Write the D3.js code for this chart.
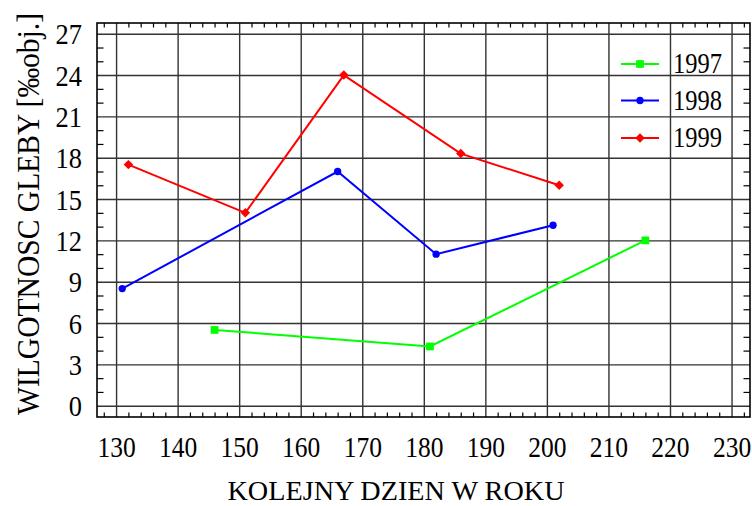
<html>

<head>
    <style>
        body { margin: 0; background: #fff; }
        text { font-family: "Liberation Serif", "Times New Roman", serif; fill: #000; }
    </style>
</head>

<body>
    <div id="my_dataviz"></div>
</body>

<script src="https://d3js.org/d3.v7.min.js"></script>
<script>
    // data
    var days1997 = [146, 181, 216];
    var vals1997 = [5.5, 4.3, 12.0];
    var days1998 = [131, 166, 182, 201];
    var vals1998 = [8.5, 17.0, 11.0, 13.1];
    var days1999 = [132, 151, 167, 186, 202];
    var vals1999 = [17.5, 14.0, 24.0, 18.3, 16.0];

    var seriesNames = ["1997", "1998", "1999"];
    var xTicks = [130, 140, 150, 160, 170, 180, 190, 200, 210, 220, 230];
    var yTicks = [0, 3, 6, 9, 12, 15, 18, 21, 24, 27];

    var W = 752, H = 506;
    var pL = 97, pR = 750, pT = 23, pB = 417;

    var svg = d3.select("#my_dataviz")
        .append("svg")
        .attr("width", W)
        .attr("height", H);

    var x = d3.scaleLinear().domain([126.9, 233]).range([pL, pR]);
    var y = d3.scaleLinear().domain([-0.82, 27.78]).range([pB, pT]);

    // squeeze text horizontally like the original condensed serif
    function condense(sel, k) {
        sel.each(function () {
            var w = this.getComputedTextLength();
            d3.select(this).attr("textLength", w * k).attr("lengthAdjust", "spacingAndGlyphs");
        });
    }

    // grid
    svg.append("g")
        .attr("transform", "translate(0," + pB + ")")
        .call(d3.axisBottom(x).tickValues(xTicks).tickSize(-(pB - pT)).tickFormat(""))
        .call(function (g) { g.select(".domain").remove(); })
        .selectAll("line").attr("stroke", "#333").attr("stroke-width", 1.4);
    svg.append("g")
        .attr("transform", "translate(" + pL + ",0)")
        .call(d3.axisLeft(y).tickValues(yTicks).tickSize(-(pR - pL)).tickFormat(""))
        .call(function (g) { g.select(".domain").remove(); })
        .selectAll("line").attr("stroke", "#333").attr("stroke-width", 1.4);

    // minor ticks, inward on all four sides
    var xMinor = d3.range(128, 233, 2).filter(function (d) { return d % 10 != 0; });
    var yMinor = d3.range(0, 28, 1).filter(function (d) { return d % 3 != 0; });
    function minor(g) { g.select(".domain").remove(); g.selectAll("line").attr("stroke", "#000").attr("stroke-width", 1.2); }
    svg.append("g").attr("transform", "translate(0," + pB + ")")
        .call(d3.axisBottom(x).tickValues(xMinor).tickSize(-4.5).tickFormat("")).call(minor);
    svg.append("g").attr("transform", "translate(0," + pT + ")")
        .call(d3.axisTop(x).tickValues(xMinor).tickSize(-4.5).tickFormat("")).call(minor);
    svg.append("g").attr("transform", "translate(" + pL + ",0)")
        .call(d3.axisLeft(y).tickValues(yMinor).tickSize(-6.5).tickFormat("")).call(minor);
    svg.append("g").attr("transform", "translate(" + pR + ",0)")
        .call(d3.axisRight(y).tickValues(yMinor).tickSize(-6.5).tickFormat("")).call(minor);

    // frame
    svg.append("rect")
        .attr("x", pL).attr("y", pT)
        .attr("width", pR - pL).attr("height", pB - pT)
        .attr("fill", "none").attr("stroke", "#000").attr("stroke-width", 1.6);

    // tick labels
    var xl = svg.append("g")
        .attr("transform", "translate(0," + pB + ")")
        .call(d3.axisBottom(x).tickValues(xTicks).tickSize(0))
        .call(function (g) { g.select(".domain").remove(); });
    xl.selectAll("text").attr("y", 40).attr("dy", 0)
        .attr("font-size", 30).attr("fill", "#000")
        .attr("font-family", "Liberation Serif");
    condense(xl.selectAll("text"), 0.85);

    var yl = svg.append("g")
        .attr("transform", "translate(" + pL + ",0)")
        .call(d3.axisLeft(y).tickValues(yTicks).tickSize(0))
        .call(function (g) { g.select(".domain").remove(); });
    yl.selectAll("text").attr("x", -15).attr("dy", "0.34em")
        .attr("font-size", 30).attr("fill", "#000")
        .attr("font-family", "Liberation Serif");
    condense(yl.selectAll("text"), 0.88);

    // axis titles
    var xt = svg.append("text")
        .attr("x", 396).attr("y", 500)
        .attr("text-anchor", "middle")
        .attr("font-size", 27)
        .text("KOLEJNY DZIEN W ROKU");
    xt.attr("textLength", 337).attr("lengthAdjust", "spacingAndGlyphs");

    var yt = svg.append("text")
        .attr("transform", "translate(39,214) rotate(-90)")
        .attr("text-anchor", "middle")
        .attr("font-size", 32)
        .text("WILGOTNOSC GLEBY [‰obj.]");
    yt.attr("textLength", 402).attr("lengthAdjust", "spacingAndGlyphs");

    // series (diamond = square turned 45 degrees)
    var series = [
        { name: seriesNames[0], days: days1997, vals: vals1997, color: "#00ff00", shape: d3.symbolSquare, size: 60, rot: 0 },
        { name: seriesNames[1], days: days1998, vals: vals1998, color: "#0000ff", shape: d3.symbolCircle, size: 42, rot: 0 },
        { name: seriesNames[2], days: days1999, vals: vals1999, color: "#ff0000", shape: d3.symbolSquare, size: 45, rot: 45 }
    ];

    var line = d3.line()
        .x(function (d) { return x(d[0]); })
        .y(function (d) { return y(d[1]); });

    series.forEach(function (s) {
        var pts = s.days.map(function (d, i) { return [d, s.vals[i]]; });
        svg.append("path")
            .datum(pts)
            .attr("d", line)
            .attr("fill", "none")
            .attr("stroke", s.color)
            .attr("stroke-width", 2);
        svg.selectAll(null)
            .data(pts)
            .enter()
            .append("path")
            .attr("d", d3.symbol().type(s.shape).size(s.size))
            .attr("transform", function (d) { return "translate(" + x(d[0]) + "," + y(d[1]) + ") rotate(" + s.rot + ")"; })
            .attr("fill", s.color);
    });

    // legend
    var legY = [64, 100.5, 138];
    series.forEach(function (s, i) {
        var g = svg.append("g").attr("transform", "translate(0," + legY[i] + ")");
        g.append("line")
            .attr("x1", 621).attr("x2", 659)
            .attr("stroke", s.color).attr("stroke-width", 2);
        g.append("path")
            .attr("d", d3.symbol().type(s.shape).size(s.size))
            .attr("transform", "translate(640,0) rotate(" + s.rot + ")")
            .attr("fill", s.color);
        var t = g.append("text")
            .attr("x", 673).attr("y", 9)
            .attr("font-size", 30)
            .text(s.name);
        t.attr("textLength", 49).attr("lengthAdjust", "spacingAndGlyphs");
    });
</script>

</html>
